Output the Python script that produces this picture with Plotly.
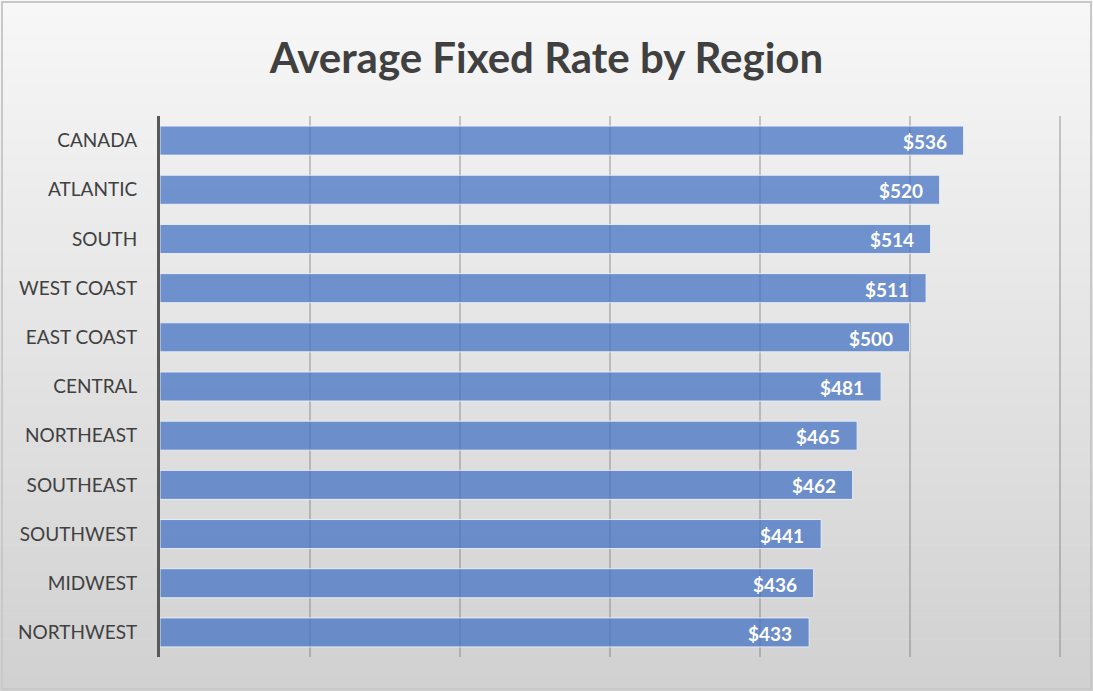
import plotly.graph_objects as go

regions = ["CANADA", "ATLANTIC", "SOUTH", "WEST COAST", "EAST COAST", "CENTRAL",
           "NORTHEAST", "SOUTHEAST", "SOUTHWEST", "MIDWEST", "NORTHWEST"]
rates = [536, 520, 514, 511, 500, 481, 465, 462, 441, 436, 433]
labels = ["$" + str(v) for v in rates]

W, H = 1093, 691
L, R, T, B = 160, 32, 116, 34
pw, ph = W - L - R, H - T - B

def px_to_paper_x(px):
    return (px - L) / pw

def py_to_paper_y(py):
    return (H - B - py) / ph

fig = go.Figure()
fig.add_trace(go.Bar(
    y=regions, x=rates, orientation="h",
    marker=dict(color="rgba(68,114,196,0.74)",
                line=dict(color="rgba(235,240,250,0.9)", width=1)),
    hoverinfo="skip",
))

# value labels placed at the bar ends through the data axis
for r, v, t in zip(regions, rates, labels):
    fig.add_annotation(x=v, y=r, text="<b>" + t + "</b>", showarrow=False,
                       xanchor="right", xshift=-15, yshift=-1,
                       font=dict(family="Lato", size=19, color="white"))

# gradient background
shapes = []
n = 80
top = (247, 247, 247)
bot = (209, 209, 209)
for i in range(n):
    f = i / (n - 1)
    c = tuple(int(round(top[k] + (bot[k] - top[k]) * f)) for k in range(3))
    y0 = i * H / n
    y1 = (i + 1) * H / n + 0.6
    shapes.append(dict(type="rect", xref="paper", yref="paper",
                       x0=px_to_paper_x(0), x1=px_to_paper_x(W),
                       y0=py_to_paper_y(y1), y1=py_to_paper_y(y0),
                       fillcolor="rgb(%d,%d,%d)" % c, line=dict(width=0),
                       layer="below"))
# outer frame
shapes.append(dict(type="rect", xref="paper", yref="paper",
                   x0=px_to_paper_x(2), x1=px_to_paper_x(W - 2),
                   y0=py_to_paper_y(H - 2), y1=py_to_paper_y(2),
                   line=dict(color="rgb(200,200,200)", width=2),
                   layer="below"))

fig.update_layout(
    width=W, height=H,
    margin=dict(l=L, r=R, t=T, b=B),
    paper_bgcolor="rgba(0,0,0,0)",
    plot_bgcolor="rgba(0,0,0,0)",
    shapes=shapes,
    bargap=0.41,
    showlegend=False,
    title=dict(text="<b>Average Fixed Rate by Region</b>", x=0.5, xref="container",
               y=1 - 58 / H, yref="container", yanchor="middle", xanchor="center",
               font=dict(family="Lato", size=42, color="#404040")),
    xaxis=dict(range=[0, 601], tickvals=[100, 200, 300, 400, 500, 600],
               showticklabels=False,
               showgrid=True, gridcolor="rgba(110,110,110,0.35)", gridwidth=1.5,
               zeroline=False, showline=False, fixedrange=True),
    yaxis=dict(autorange="reversed", showline=True, linecolor="#595959",
               linewidth=3, ticks="", ticklabelstandoff=16,
               tickfont=dict(family="Lato", size=19, color="#404040"),
               showgrid=False, fixedrange=True),
)

fig.write_html("out.html", config={"displayModeBar": False},
               post_script="document.body.style.margin='0';")
